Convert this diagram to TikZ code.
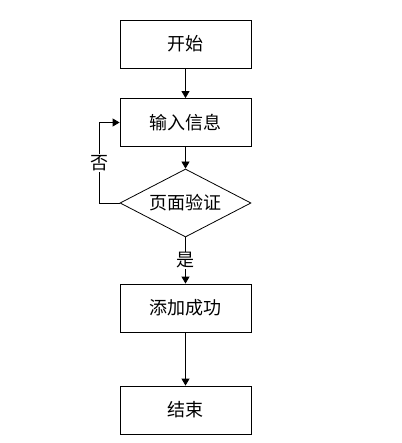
\documentclass[tikz,border=0pt]{standalone}
\usepackage{fontspec}
\setmainfont{Noto Sans CJK SC}
\usetikzlibrary{arrows, arrows.meta}
\usetikzlibrary{shapes.geometric, positioning, calc}

\begin{document}
\begin{tikzpicture}[x=1pt, y=-1pt, font=\fontsize{18}{21}\selectfont,
    box/.style={rectangle, draw=black, line width=0.8pt, minimum width=131pt, minimum height=48pt, inner sep=0pt},
    check/.style={diamond, draw=black, line width=0.8pt, aspect=2, minimum width=131pt, minimum height=68pt, inner sep=0pt},
    flow/.style={-{Triangle[length=7pt, width=8pt]}, line width=0.8pt},
    tag/.style={fill=white, inner sep=1pt}]
        \useasboundingbox (0, 0) rectangle (401, 443);

        \node[box] (start) at (185.5, 44) {开始};
        \node[box] (input) at (185.5, 122.5) {输入信息};
        \node[check] (verify) at (185.5, 203) {页面验证};
        \node[box] (added) at (185.5, 308) {添加成功};
        \node[box] (stop) at (185.5, 410) {结束};

        \draw[flow] (start) -- (input);
        \draw[flow] (input) -- (verify);
        \draw[flow] (verify.south) -- node[tag] {是} (added.north);
        \draw[flow] (added) -- (stop);
        \draw[flow] (verify.west) -- ++(-20, 0) |- node[tag, pos=0.25] {否} (input.west);
      \end{tikzpicture}
\end{document}
